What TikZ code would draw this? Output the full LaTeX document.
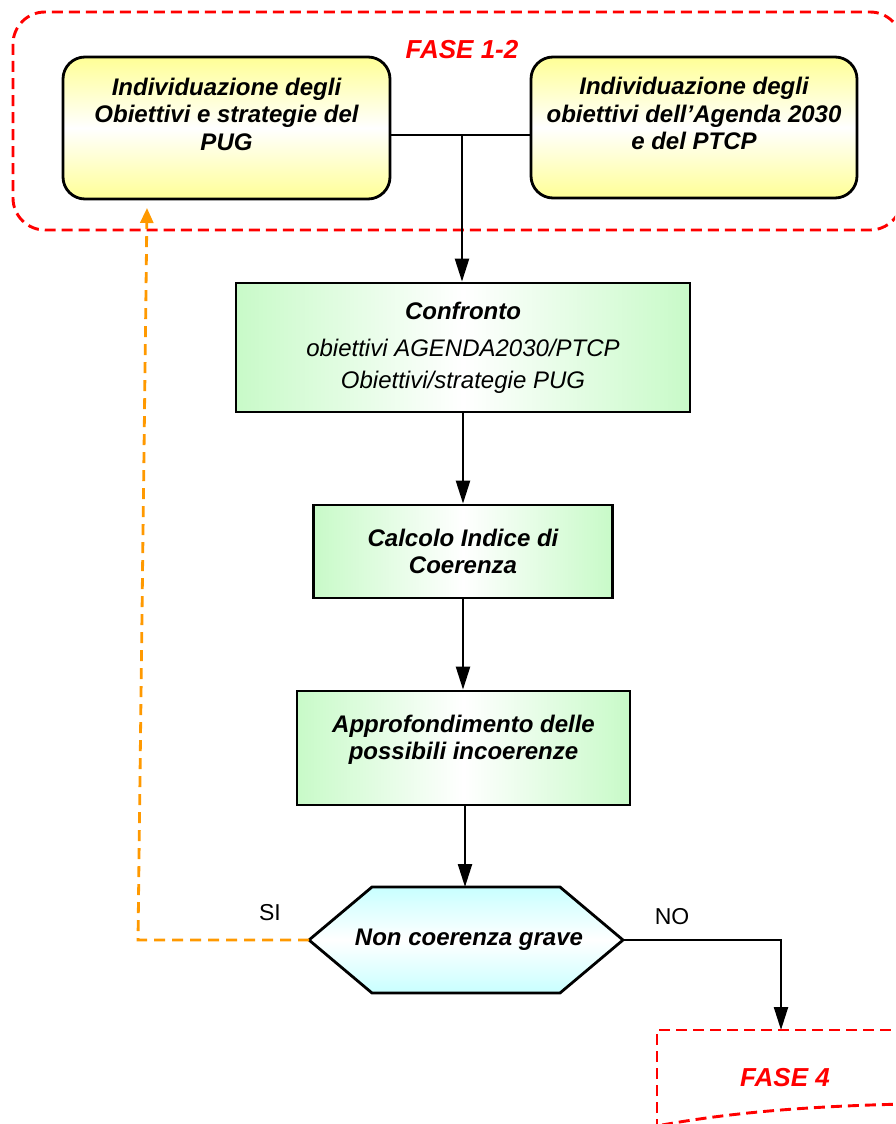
\documentclass[tikz,border=0pt]{standalone}
\usepackage{fontspec}
\setmainfont{Liberation Sans}
\usepackage{tikz}
\usetikzlibrary{arrows.meta}
\usetikzlibrary{positioning}
\usetikzlibrary{calc}
\definecolor{phase red}{RGB}{255, 0, 0}
\definecolor{loop orange}{RGB}{255, 153, 0}
\definecolor{goal yellow}{RGB}{255, 255, 150}
\definecolor{step green}{RGB}{200, 250, 200}
\definecolor{test cyan}{RGB}{200, 255, 255}
\tikzstyle{phase frame} = [draw = phase red, line width = 2.9pt, dash pattern = on 11pt off 6pt]
\tikzstyle{phase title} = [text = phase red, font = \fontsize{26}{30}\selectfont\bfseries\itshape]
\tikzstyle{goal box} = [draw, line width = 2.8pt, rounded corners = 22pt, inner sep = 0,
    top color = goal yellow, bottom color = goal yellow, middle color = white]
\tikzstyle{step box} = [draw, line width = 2.8pt, inner sep = 0, align = center,
    left color = step green, right color = step green, middle color = white]
\tikzstyle{box text} = [align = center, font = \fontsize{24}{27.5}\selectfont\bfseries\itshape]
\tikzstyle{test shape} = [draw, line width = 2.8pt, line join = miter,
    top color = test cyan, bottom color = test cyan, middle color = white]
\tikzstyle{answer} = [font = \fontsize{23}{26}\selectfont]
\tikzstyle{edge} = [line width = 2.3pt]
\tikzstyle{flow arrow} = [edge, -{Triangle[length = 23pt, width = 14pt]}]
\tikzstyle{loop arrow} = [line width = 2.8pt, draw = loop orange, dash pattern = on 11pt off 7pt,
    -{Triangle[length = 15pt, width = 13pt, fill = loop orange]}]

\begin{document}
\begin{tikzpicture}[x = 1pt, y = -1pt]
            \useasboundingbox (0, 0) rectangle (895, 1124);
            \clip (0, 0) rectangle (895, 1124);

            \draw [phase frame, rounded corners = 32pt] (13, 12) rectangle (902, 230);
            \node [phase title] (fase12) at (462, 50) {FASE 1-2};

            \node [goal box, minimum width = 327pt, minimum height = 142pt] (pug) at (226.5, 128) {};
            \node [box text] (pug text) at ([yshift = 14pt] pug.center)
                {Individuazione degli\\Obiettivi e strategie del\\PUG};

            \node [goal box, minimum width = 326pt, minimum height = 141pt] (agenda) at (694, 127.5) {};
            \node [box text] (agenda text) at ([yshift = 14pt] agenda.center)
                {Individuazione degli\\obiettivi dell’Agenda 2030\\e del PTCP};

            \node [step box, minimum width = 454pt, minimum height = 129pt,
                   font = \fontsize{24}{32}\selectfont\itshape] (confronto) at (463, 347.5)
                {\textbf{Confronto}\\[5pt]obiettivi AGENDA2030/PTCP\\Obiettivi/strategie PUG};

            \node [step box, box text, minimum width = 299pt, minimum height = 93pt] (indice) at (463, 551.5)
                {Calcolo Indice di\\Coerenza};

            \node [step box, minimum width = 333pt, minimum height = 114pt] (approf) at (463.5, 748) {};
            \node [box text] (approf text) at ([yshift = 8pt] approf.center)
                {Approfondimento delle\\possibili incoerenze};

            \draw [test shape] (309, 940) -- (372, 887) -- (560, 887) -- (623, 940)
                -- (560, 993) -- (372, 993) -- cycle;
            \coordinate (test west) at (309, 940);
            \coordinate (test east) at (623, 940);
            \coordinate (test north) at (465, 887);
            \node [box text] (test) at (469, 940) {Non coerenza grave};

            \coordinate (join) at (462, 135);
            \draw [edge] (pug.east |- join) -- (agenda.west |- join);
            \draw [flow arrow] (join) -- (join |- confronto.north);
            \draw [flow arrow] (confronto.south) -- (confronto.south |- indice.north);
            \draw [flow arrow] (indice.south) -- (indice.south |- approf.north);
            \draw [flow arrow] (approf.south -| test north) -- (test north);

            \coordinate (back corner) at (138, 940);
            \coordinate (back tip) at (147, 208);
            \draw [loop arrow] (test west) -- (back corner) -- (back tip);
            \node [answer] (si) at (270, 913) {SI};

            \coordinate (no corner) at (781, 940);
            \coordinate (fase4 top) at (781, 1030);
            \draw [flow arrow] (test east) -- (no corner) -- (fase4 top);
            \node [answer] (no) at (672, 917) {NO};

            \draw [phase frame] (657, 1130) -- (657, 1030) -- (905, 1030);
            \draw [phase frame] (662, 1125) .. controls (740, 1111) and (820, 1106) .. (905, 1104);
            \node [phase title] (fase4) at (785, 1078) {FASE 4};
\end{tikzpicture}
\end{document}
